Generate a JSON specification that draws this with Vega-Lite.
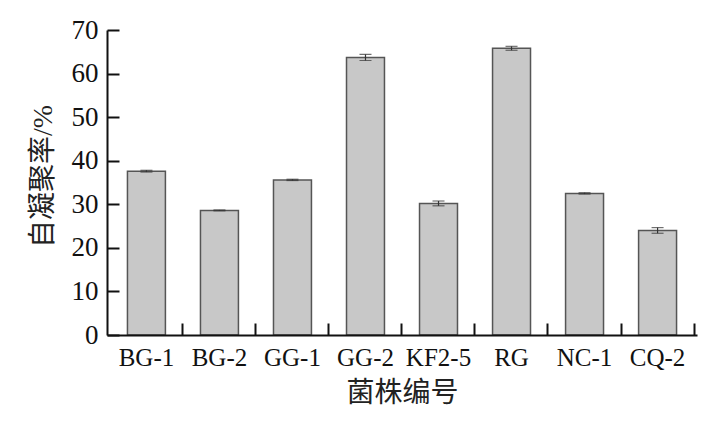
{
  "$schema": "https://vega.github.io/schema/vega-lite/v6.json",
  "width": 590,
  "height": 305,
  "autosize": {"type": "none"},
  "padding": {"left": 107, "top": 30, "right": 16, "bottom": 89},
  "background": "white",
  "data": {
    "values": [
      {"strain": "BG-1", "rate": 37.6, "err": 0.2},
      {"strain": "BG-2", "rate": 28.6, "err": 0.1},
      {"strain": "GG-1", "rate": 35.6, "err": 0.15},
      {"strain": "GG-2", "rate": 63.7, "err": 0.7},
      {"strain": "KF2-5", "rate": 30.2, "err": 0.55},
      {"strain": "RG", "rate": 65.8, "err": 0.45},
      {"strain": "NC-1", "rate": 32.5, "err": 0.15},
      {"strain": "CQ-2", "rate": 24.0, "err": 0.65}
    ]
  },
  "encoding": {
    "x": {
      "field": "strain",
      "type": "nominal",
      "sort": null,
      "scale": {"paddingInner": 0.48, "paddingOuter": 0.28},
      "axis": {
        "zindex": 1,
        "title": "菌株编号",
        "labelAngle": 0,
        "labelFont": "Liberation Serif",
        "labelFontSize": 25,
        "labelColor": "#111",
        "labelPadding": 22,
        "ticks": true,
        "tickSize": -12,
        "tickWidth": 2,
        "tickColor": "#111",
        "bandPosition": 1.46,
        "domainColor": "#111",
        "domainWidth": 2,
        "titleFont": "Noto Sans CJK SC",
        "titleFontSize": 28,
        "titleFontWeight": "normal",
        "titleColor": "#222",
        "titlePadding": 9
      }
    },
    "y": {
      "field": "rate",
      "type": "quantitative",
      "scale": {"domain": [0, 70], "nice": false},
      "axis": {
        "zindex": 1,
        "title": "自凝聚率/%",
        "values": [0, 10, 20, 30, 40, 50, 60, 70],
        "grid": false,
        "labelFont": "Liberation Serif",
        "labelFontSize": 27,
        "labelColor": "#111",
        "labelPadding": 21,
        "ticks": true,
        "tickSize": -12,
        "tickWidth": 2,
        "tickColor": "#111",
        "domainColor": "#111",
        "domainWidth": 2,
        "titleFont": "Liberation Serif, Noto Sans CJK SC",
        "titleFontSize": 28,
        "titleFontWeight": "normal",
        "titleColor": "#222",
        "titlePadding": 14,
        "titleY": 146
      }
    }
  },
  "layer": [
    {
      "mark": {"type": "bar", "fill": "#c8c8c8", "stroke": "#555555", "strokeWidth": 1.5}
    },
    {
      "mark": {"type": "errorbar", "color": "#333333", "thickness": 1.2, "ticks": {"size": 12, "color": "#333333"}},
      "encoding": {
        "y": {"field": "rate", "type": "quantitative"},
        "yError": {"field": "err"}
      }
    }
  ],
  "config": {"view": {"stroke": null}}
}
